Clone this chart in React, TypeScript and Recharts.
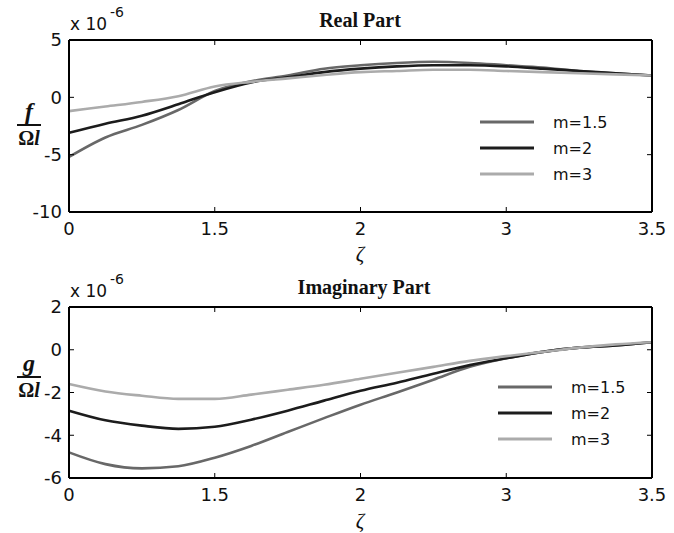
import { LineChart, Line, XAxis, YAxis } from "recharts";

// positions along the axis (index units, 5 evenly spaced ticks)
const zeta = [0, 0.25, 0.5, 0.75, 1, 1.25, 1.5, 1.75, 2, 2.25, 2.5, 2.75, 3, 3.25, 3.5, 3.75, 4];
const xTicks = [0, 1, 2, 3, 4];
const xTickLabels = ["0", "1.5", "2", "3", "3.5"];

const seriesNames = ["m=1.5", "m=2", "m=3"];
const seriesColors = ["#686868", "#1c1c1c", "#ababab"];

// real part, units of 1e-6
const realM15 = [-5.2, -3.5, -2.4, -1.1, 0.55, 1.4, 1.9, 2.5, 2.8, 3.0, 3.1, 3.0, 2.8, 2.6, 2.3, 2.1, 1.9];
const realM2 = [-3.1, -2.3, -1.6, -0.6, 0.45, 1.3, 1.75, 2.2, 2.5, 2.7, 2.8, 2.8, 2.7, 2.5, 2.3, 2.1, 1.9];
const realM3 = [-1.2, -0.8, -0.4, 0.1, 0.95, 1.35, 1.65, 1.95, 2.2, 2.3, 2.4, 2.4, 2.3, 2.2, 2.1, 2.0, 1.9];

// imaginary part, units of 1e-6
const imagM15 = [-4.8, -5.35, -5.55, -5.45, -5.05, -4.5, -3.85, -3.2, -2.57, -2.0, -1.4, -0.8, -0.4, -0.1, 0.1, 0.2, 0.35];
const imagM2 = [-2.85, -3.3, -3.55, -3.7, -3.6, -3.27, -2.85, -2.38, -1.92, -1.54, -1.12, -0.72, -0.4, -0.1, 0.1, 0.2, 0.35];
const imagM3 = [-1.6, -1.95, -2.15, -2.3, -2.3, -2.1, -1.87, -1.64, -1.36, -1.08, -0.8, -0.52, -0.3, -0.1, 0.1, 0.25, 0.35];

const realTicks = [-10, -5, 0, 5];
const imagTicks = [-6, -4, -2, 0, 2];

const toRows = (a: number[], b: number[], c: number[]) =>
  zeta.map((z, i) => ({ z, m15: a[i], m2: b[i], m3: c[i] }));

const realRows = toRows(realM15, realM2, realM3);
const imagRows = toRows(imagM15, imagM2, imagM3);
const keys = ["m15", "m2", "m3"];

const tickFont = { fontSize: 18, fill: "#111", fontFamily: "DejaVu Sans" };
const frame = { stroke: "#000", strokeWidth: 2 };
const blank = () => "";

function Panel({ rows, domain, ticks, top, bottom }: { rows: any[]; domain: [number, number]; ticks: number[]; top: number; bottom: number }) {
  return (
    <LineChart width={674} height={266} data={rows} margin={{ top, right: 22, bottom, left: 0 }}>
      <XAxis
        dataKey="z"
        type="number"
        domain={[0, 4]}
        ticks={xTicks}
        tickFormatter={(v: number) => xTickLabels[xTicks.indexOf(v)]}
        tick={tickFont}
        tickLine={false}
        tickMargin={4}
        axisLine={frame}
        height={30}
      />
      {/* inward MATLAB-style ticks and the rest of the box */}
      <XAxis xAxisId="top" dataKey="z" orientation="top" type="number" domain={[0, 4]} ticks={xTicks} mirror height={1}
        tickFormatter={blank} tickSize={5} tickLine={{ stroke: "#000" }} axisLine={frame} />
      <XAxis xAxisId="bm" dataKey="z" orientation="bottom" type="number" domain={[0, 4]} ticks={xTicks} mirror height={1}
        tickFormatter={blank} tickSize={5} tickLine={{ stroke: "#000" }} axisLine={false} />
      <YAxis
        type="number"
        domain={domain}
        ticks={ticks}
        tick={tickFont}
        tickLine={false}
        tickMargin={1}
        axisLine={frame}
        width={69}
      />
      <YAxis yAxisId="right" orientation="right" type="number" domain={domain} ticks={ticks} mirror width={1}
        tickFormatter={blank} tickSize={5} tickLine={{ stroke: "#000" }} axisLine={frame} />
      <YAxis yAxisId="lm" orientation="left" type="number" domain={domain} ticks={ticks} mirror width={1}
        tickFormatter={blank} tickSize={5} tickLine={{ stroke: "#000" }} axisLine={false} />
      <Line xAxisId="top" yAxisId="right" dataKey="m2" stroke="none" dot={false} legendType="none" isAnimationActive={false} />
      <Line xAxisId="bm" yAxisId="lm" dataKey="m2" stroke="none" dot={false} legendType="none" isAnimationActive={false} />
      {keys.map((k, i) => (
        <Line key={k} dataKey={k} name={seriesNames[i]} type="monotone" stroke={seriesColors[i]}
          strokeWidth={2.6} dot={false} isAnimationActive={false} />
      ))}
    </LineChart>
  );
}

function Legend({ x, y }: { x: number; y: number }) {
  return (
    <g>
      {seriesNames.map((n, i) => (
        <g key={n}>
          <line x1={x} x2={x + 54} y1={y + i * 26} y2={y + i * 26} stroke={seriesColors[i]} strokeWidth={2.8} />
          <text x={x + 73} y={y + i * 26 + 6} fontSize={16} fontFamily="DejaVu Sans" fill="#111">{n}</text>
        </g>
      ))}
    </g>
  );
}

function Exponent({ y }: { y: number }) {
  return (
    <g fontFamily="DejaVu Sans" fill="#111">
      <text x={70} y={y} fontSize={17}>x 10</text>
      <text x={110} y={y - 13} fontSize={14}>-6</text>
    </g>
  );
}

function Frac({ top, y }: { top: string; y: number }) {
  return (
    <g fontFamily="Liberation Serif" fill="#111" textAnchor="middle">
      <text x={29} y={y - 6} fontSize={24} fontWeight="bold" fontStyle="italic">{top}</text>
      <line x1={17} x2={41} y1={y} y2={y} stroke="#111" strokeWidth={2} />
      <text x={29} y={y + 20} fontSize={20} fontWeight="bold">Ω<tspan fontStyle="italic">l</tspan></text>
    </g>
  );
}

export default function App() {
  return (
    <div style={{ position: "absolute", left: 0, top: 0, width: 674, height: 533, background: "#fff" }}>
      <div style={{ position: "absolute", left: 0, top: 0 }}>
        <Panel rows={realRows} domain={[-10, 5]} ticks={realTicks} top={40} bottom={24} />
      </div>
      <div style={{ position: "absolute", left: 0, top: 266 }}>
        <Panel rows={imagRows} domain={[-6, 2]} ticks={imagTicks} top={41} bottom={24} />
      </div>
      <svg width={674} height={533} style={{ position: "absolute", left: 0, top: 0, pointerEvents: "none" }}>
        <text x={360} y={27} textAnchor="middle" fontFamily="Liberation Serif" fontWeight="bold" fontSize={20} fill="#111">Real Part</text>
        <text x={364} y={294} textAnchor="middle" fontFamily="Liberation Serif" fontWeight="bold" fontSize={20} fill="#111">Imaginary Part</text>
        <Exponent y={30} />
        <Exponent y={297} />
        <Frac top="f" y={125} />
        <Frac top="g" y={377} />
        <text x={360} y={261} textAnchor="middle" fontFamily="Liberation Serif" fontStyle="italic" fontSize={21} fill="#111">ζ</text>
        <text x={360} y={528} textAnchor="middle" fontFamily="Liberation Serif" fontStyle="italic" fontSize={21} fill="#111">ζ</text>
        <Legend x={480} y={122} />
        <Legend x={498} y={387} />
      </svg>
    </div>
  );
}
